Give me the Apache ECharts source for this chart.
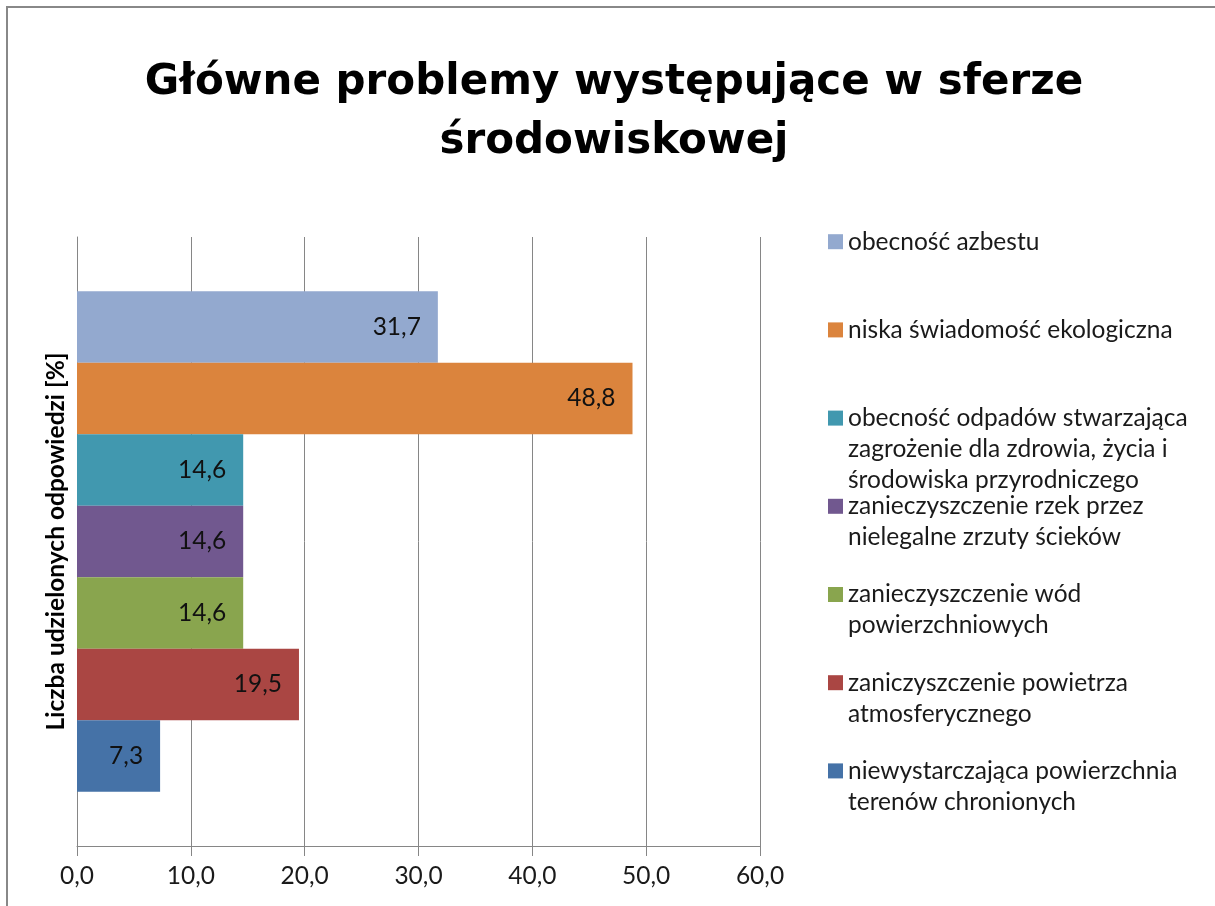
<!DOCTYPE html>
<html>
<head>
<meta charset="utf-8">
<style>
  html, body { margin: 0; padding: 0; background: #ffffff; }
  #chart { width: 1215px; height: 906px; }
</style>
<script src="https://cdn.jsdelivr.net/npm/echarts@6/dist/echarts.min.js"></script>
</head>
<body>
<div id="chart"></div>
<script>
// Problem categories, top to bottom
const categories = [
  'obecność azbestu',
  'niska świadomość ekologiczna',
  'obecność odpadów stwarzająca zagrożenie dla zdrowia, życia i środowiska przyrodniczego',
  'zanieczyszczenie rzek przez nielegalne zrzuty ścieków',
  'zanieczyszczenie wód powierzchniowych',
  'zaniczyszczenie powietrza atmosferycznego',
  'niewystarczająca powierzchnia terenów chronionych'
];
// Wrapped legend text for each category
const legendLines = [
  ['obecność azbestu'],
  ['niska świadomość ekologiczna'],
  ['obecność odpadów stwarzająca', 'zagrożenie dla zdrowia, życia i', 'środowiska przyrodniczego'],
  ['zanieczyszczenie rzek przez', 'nielegalne zrzuty ścieków'],
  ['zanieczyszczenie wód', 'powierzchniowych'],
  ['zaniczyszczenie powietrza', 'atmosferycznego'],
  ['niewystarczająca powierzchnia', 'terenów chronionych']
];
// Share of answers [%]
const values = [31.7, 48.8, 14.6, 14.6, 14.6, 19.5, 7.3];
const colors = ['#93A9CF', '#DB843D', '#4198AF', '#71588F', '#89A54E', '#AA4643', '#4572A7'];
const xTicks = { min: 0, max: 60, interval: 10 };

const FONT = 'Lato, "Open Sans", sans-serif';
const fmt = v => Number(v).toFixed(1).replace('.', ',');

const chart = echarts.init(document.getElementById('chart'), null, { renderer: 'canvas' });

const series = categories.map((name, i) => ({
  name: name,
  type: 'bar',
  data: [values[i]],
  barGap: '0%',
  barCategoryGap: '17.8%',
  itemStyle: { color: colors[i] },
  label: {
    show: true,
    position: 'insideRight',
    distance: 17,
    formatter: p => fmt(p.value),
    fontFamily: FONT,
    fontSize: 24.5,
    color: '#111111'
  }
}));

// One legend block per entry; blank leading lines keep the icon level
// with the first line of a wrapped label
const LH = 31;
const firstIcon = 241.7;
const iconStep = 88.2;
const legends = categories.map((name, i) => {
  const n = legendLines[i].length;
  const c = firstIcon + iconStep * i;
  const text = new Array(n - 1).fill('').concat(legendLines[i]).join('\n');
  return {
    orient: 'vertical',
    left: 828,
    top: c - (2 * n - 1) * LH / 2,
    padding: 0,
    itemWidth: 15,
    itemHeight: 15,
    selectedMode: false,
    icon: 'rect',
    data: [name],
    formatter: () => text,
    textStyle: {
      fontFamily: FONT,
      fontSize: 24.5,
      color: '#1a1a1a',
      lineHeight: LH
    }
  };
});

chart.setOption({
  animation: false,
  backgroundColor: '#ffffff',
  color: colors,
  title: {
    text: 'Główne problemy występujące w sferze\nśrodowiskowej',
    left: 614,
    top: 54,
    textAlign: 'center',
    padding: 0,
    textStyle: {
      fontFamily: '"DejaVu Sans", sans-serif',
      fontWeight: 'bold',
      fontSize: 42,
      lineHeight: 59,
      color: '#000000'
    }
  },
  graphic: [{
    type: 'rect',
    silent: true,
    z: -10,
    shape: { x: 7, y: 7, width: 1300, height: 1000 },
    style: { fill: 'none', stroke: '#888888', lineWidth: 2 }
  }],
  legend: legends,
  grid: { left: 77, top: 237, width: 683, height: 609, containLabel: false },
  xAxis: {
    type: 'value',
    min: xTicks.min,
    max: xTicks.max,
    interval: xTicks.interval,
    axisLine: { show: true, lineStyle: { color: '#868686', width: 1 } },
    axisTick: { show: true, length: 10, inside: false, lineStyle: { color: '#868686' } },
    splitLine: { show: true, lineStyle: { color: '#868686', width: 1 } },
    axisLabel: {
      formatter: v => fmt(v),
      fontFamily: FONT,
      fontSize: 24.5,
      color: '#1a1a1a',
      margin: 18
    }
  },
  yAxis: {
    type: 'category',
    data: [''],
    axisLine: { show: true, lineStyle: { color: '#868686', width: 1 } },
    axisTick: { show: false },
    axisLabel: { show: false },
    name: 'Liczba udzielonych odpowiedzi [%]',
    nameLocation: 'middle',
    nameGap: 8,
    nameTextStyle: {
      fontFamily: FONT,
      fontWeight: 'bold',
      fontSize: 24.5,
      color: '#000000'
    }
  },
  series: series
});
</script>
</body>
</html>
